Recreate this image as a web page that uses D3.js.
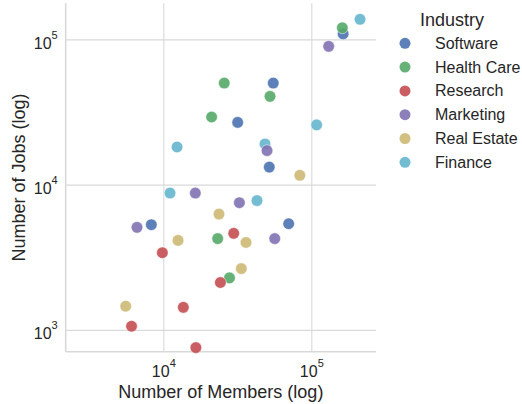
<!DOCTYPE html>
<html>
<head>
<meta charset="utf-8">
<script src="https://cdn.jsdelivr.net/npm/d3@7"></script>
<style>
body { margin: 0; background: #fff; }
text { font-family: "Liberation Sans", Arial, sans-serif; fill: #262626; }
</style>
</head>
<body>
<div id="chart"></div>
<script>
var industries = ["Software", "Health Care", "Research", "Marketing", "Real Estate", "Finance"];
var colors = ["#4C72B0", "#55A868", "#C44E52", "#8172B2", "#CCB974", "#64B5CD"];

var softwareMembers = [8300, 31800, 55300, 52000, 164000, 70300];
var softwareJobs = [5300, 26800, 50000, 13200, 109000, 5380];
var healthMembers = [25800, 52600, 21200, 162000, 23300, 28000];
var healthJobs = [50000, 40500, 29200, 120000, 4250, 2280];
var researchMembers = [9850, 29900, 24300, 13650, 6100, 16600];
var researchJobs = [3400, 4620, 2120, 1430, 1060, 755];
var marketingMembers = [6640, 16450, 32650, 50200, 56600, 131000];
var marketingJobs = [5080, 8750, 7510, 17150, 4250, 89500];
var realEstateMembers = [5570, 12570, 23770, 36200, 33650, 83600];
var realEstateJobs = [1456, 4130, 6270, 4000, 2640, 11590];
var financeMembers = [11100, 12380, 42950, 48650, 108600, 213400];
var financeJobs = [8750, 18150, 7760, 19050, 25760, 137400];

var xTicks = [1e4, 1e5];
var yTicks = [1e3, 1e4, 1e5];
var xDomain = [2190, 273500];
var yDomain = [708, 177000];

var svgWidth = 522;
var svgHeight = 404;

var margin = {
    top: 3.3,
    left: 65.7,
    right: 146,
    bottom: 52.3
};

var width = svgWidth - margin.left - margin.right;
var height = svgHeight - margin.top - margin.bottom;

var svg = d3.select("#chart")
    .append("svg")
    .attr("width", svgWidth)
    .attr("height", svgHeight);

var chartGroup = svg.append("g")
    .attr("transform", `translate(${margin.left}, ${margin.top})`);

var xLogScale = d3.scaleLog().domain(xDomain).range([0, width]);
var yLogScale = d3.scaleLog().domain(yDomain).range([height, 0]);

// put data into rows
var groups = [
    [softwareMembers, softwareJobs],
    [healthMembers, healthJobs],
    [researchMembers, researchJobs],
    [marketingMembers, marketingJobs],
    [realEstateMembers, realEstateJobs],
    [financeMembers, financeJobs]
];
var drawOrder = [0, 1, 5, 2, 3, 4];
var points = [];
drawOrder.forEach(function(g) {
    groups[g][0].forEach(function(m, i) {
        points.push({industry: g, members: m, jobs: groups[g][1][i]});
    });
});

function powerLabel(sel) {
    sel.each(function(d) {
        var t = d3.select(this);
        var exp = Math.round(Math.log10(d));
        t.text(null);
        t.append("tspan").text("10");
        t.append("tspan").attr("dy", -10).style("font-size", "11px").text(exp);
    });
}

// x axis + vertical grid
var xAxis = chartGroup.append("g")
    .attr("transform", `translate(0, ${height})`)
    .call(d3.axisBottom(xLogScale).tickValues(xTicks).tickSize(-height).tickPadding(0));
xAxis.select(".domain").remove();
xAxis.selectAll("line").attr("stroke", "#d9d9d9").attr("stroke-width", 1.1);
xAxis.selectAll("text")
    .attr("y", 25)
    .attr("dy", null)
    .style("font-size", "16px")
    .call(powerLabel);

// y axis + horizontal grid
var yAxis = chartGroup.append("g")
    .call(d3.axisLeft(yLogScale).tickValues(yTicks).tickSize(-width).tickPadding(0));
yAxis.select(".domain").remove();
yAxis.selectAll("line").attr("stroke", "#d9d9d9").attr("stroke-width", 1.1);
yAxis.selectAll("text")
    .attr("x", -8)
    .attr("y", 9)
    .attr("dy", null)
    .style("font-size", "16px")
    .call(powerLabel);

// left and bottom spines
chartGroup.append("line")
    .attr("x1", 0).attr("x2", 0).attr("y1", 0).attr("y2", height)
    .attr("stroke", "#d9d9d9").attr("stroke-width", 1.6);
chartGroup.append("line")
    .attr("x1", 0).attr("x2", width).attr("y1", height).attr("y2", height)
    .attr("stroke", "#d9d9d9").attr("stroke-width", 1.6);

chartGroup.selectAll(".dot")
    .data(points)
    .enter()
    .append("circle")
    .classed("dot", true)
    .attr("cx", d => xLogScale(d.members))
    .attr("cy", d => yLogScale(d.jobs))
    .attr("r", 5.8)
    .attr("fill", d => colors[d.industry])
    .attr("fill-opacity", 0.9)
    .attr("stroke", "white")
    .attr("stroke-width", 0.5);

// axis titles
svg.append("text")
    .attr("x", margin.left + width / 2)
    .attr("y", 398)
    .attr("text-anchor", "middle")
    .style("font-size", "18px")
    .text("Number of Members (log)");

svg.append("text")
    .attr("transform", `translate(25, ${margin.top + height / 2}) rotate(-90)`)
    .attr("text-anchor", "middle")
    .style("font-size", "18px")
    .text("Number of Jobs (log)");

// legend
var legend = svg.append("g");
legend.append("text")
    .attr("x", 420)
    .attr("y", 26)
    .style("font-size", "18px")
    .text("Industry");

var items = legend.selectAll(".item")
    .data(industries)
    .enter()
    .append("g")
    .attr("transform", (d, i) => `translate(405, ${43.3 + i * 23.8})`);
items.append("circle")
    .attr("r", 5.5)
    .attr("fill", (d, i) => colors[i])
    .attr("fill-opacity", 0.9);
items.append("text")
    .attr("x", 30)
    .attr("y", 5.5)
    .style("font-size", "16px")
    .text(d => d);
</script>
</body>
</html>
